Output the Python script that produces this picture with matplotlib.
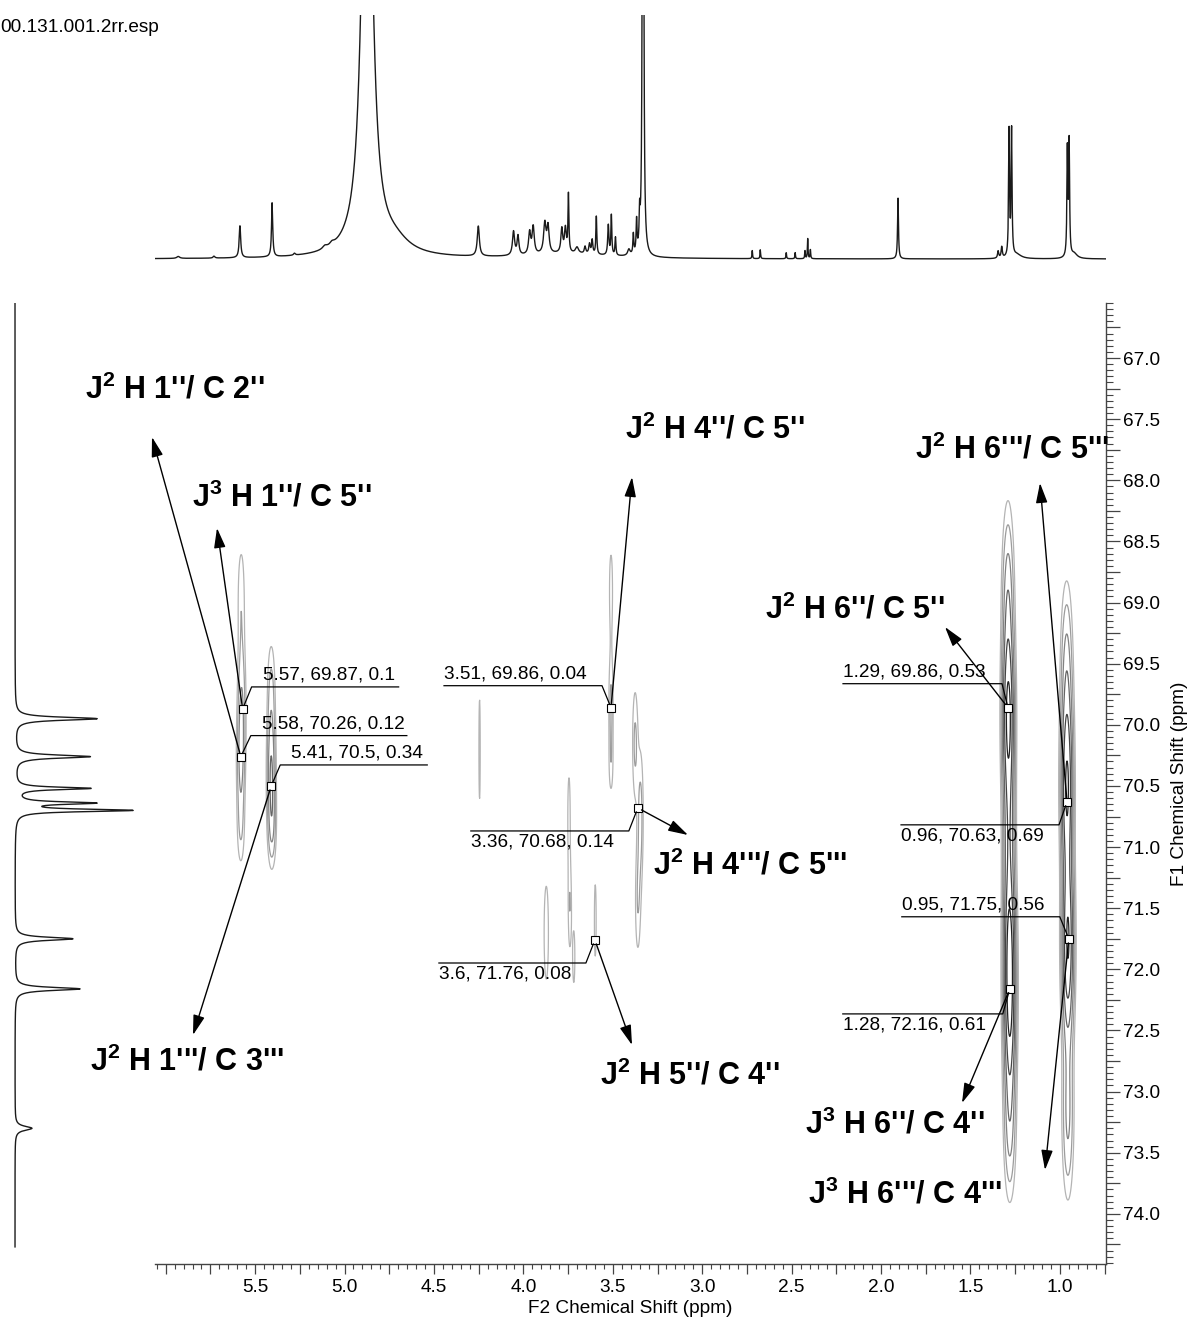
import numpy as np
import matplotlib
matplotlib.use("Agg")
import matplotlib.pyplot as plt
from matplotlib.ticker import MultipleLocator, FuncFormatter

plt.rcParams['font.family'] = ['Liberation Sans', 'DejaVu Sans']
plt.rcParams['mathtext.fontset'] = 'custom'
plt.rcParams['mathtext.rm'] = 'Liberation Sans:bold'
plt.rcParams['mathtext.bf'] = 'Liberation Sans:bold'
plt.rcParams['mathtext.it'] = 'Liberation Sans:bold'

W, H = 1195, 1321

# spectral window (ppm)
f2_window = (6.06, 0.742)      # 1H axis, left -> right
f1_window = (74.41, 66.55)     # 13C axis, bottom -> top

# 1H reference trace: peak list (shift, height in full-scale units, half width)
h1_shift = [5.93, 5.73, 5.585, 5.405, 5.28, 5.11, 5.07, 4.874, 4.72, 4.252,
            4.055, 4.030, 3.965, 3.945, 3.880, 3.862, 3.785, 3.765, 3.748, 3.70,
            3.655, 3.630, 3.615, 3.592, 3.525, 3.508, 3.485, 3.41, 3.385, 3.367,
            3.350, 3.331, 3.75, 2.72, 2.675, 2.53, 2.48, 2.425, 2.41, 2.395,
            1.905, 1.345, 1.325, 1.284, 1.270, 1.24, 0.958, 0.948, 0.92]
h1_height = [0.008, 0.008, 0.131, 0.221, 0.008, 0.012, 0.012, 2.34, 0.049, 0.123,
             0.098, 0.078, 0.090, 0.111, 0.123, 0.107, 0.098, 0.098, 0.238, 0.025,
             0.029, 0.041, 0.057, 0.156, 0.123, 0.164, 0.074, 0.025, 0.082, 0.131,
             0.131, 6.15, 0.020, 0.033, 0.037, 0.025, 0.025, 0.033, 0.082, 0.037,
             0.250, 0.029, 0.045, 0.516, 0.516, 0.016, 0.434, 0.463, 0.020]
h1_halfwidth = [0.01, 0.006, 0.005, 0.004, 0.006, 0.015, 0.015, 0.0314, 0.10, 0.007,
                0.007, 0.006, 0.007, 0.007, 0.008, 0.007, 0.006, 0.006, 0.003, 0.01,
                0.005, 0.005, 0.004, 0.003, 0.004, 0.003, 0.003, 0.008, 0.003, 0.003,
                0.003, 0.0025, 0.25, 0.002, 0.002, 0.002, 0.002, 0.002, 0.002, 0.002,
                0.003, 0.004, 0.004, 0.003, 0.003, 0.03, 0.003, 0.003, 0.02]

# 13C projection: peak list (shift, height, half width)
c13_shift = [69.95, 70.26, 70.52, 70.64, 70.70, 71.75, 72.16, 73.30]
c13_height = [0.82, 0.75, 0.75, 0.77, 1.15, 0.58, 0.65, 0.17]
c13_halfwidth = [0.015, 0.015, 0.012, 0.012, 0.012, 0.015, 0.015, 0.02]
c13_trace_end = 74.27

# HMBC cross peaks: centre (F2, F1), widths (F2, F1), amplitude
xp_f2 = [5.578, 5.575, 5.58, 5.58, 5.41, 5.41, 5.405, 4.245, 3.51, 3.51,
         3.51, 3.375, 3.345, 3.36, 3.745, 3.74, 3.718, 3.872, 3.598,
         1.29, 1.288, 1.285, 1.282, 1.28, 1.28, 0.962, 0.96, 0.955, 0.955]
xp_f1 = [68.95, 69.8, 70.3, 70.85, 69.7, 70.4, 70.85, 70.2, 68.9, 69.85,
         70.35, 70.15, 70.75, 71.45, 70.75, 71.5, 71.9, 71.7, 71.6,
         69.0, 69.95, 70.9, 71.7, 72.3, 73.3, 69.5, 70.5, 71.8, 73.2]
xp_w2 = [0.016, 0.016, 0.016, 0.016, 0.016, 0.016, 0.016, 0.004, 0.01, 0.01,
         0.01, 0.012, 0.012, 0.012, 0.007, 0.008, 0.007, 0.011, 0.005,
         0.022, 0.022, 0.022, 0.022, 0.022, 0.022, 0.022, 0.022, 0.022, 0.022]
xp_w1 = [0.35, 0.35, 0.3, 0.25, 0.3, 0.35, 0.22, 0.45, 0.35, 0.3,
         0.2, 0.35, 0.4, 0.35, 0.35, 0.3, 0.25, 0.35, 0.3,
         0.5, 0.45, 0.45, 0.4, 0.5, 0.4, 0.45, 0.5, 0.5, 0.45]
xp_amp = [1.6, 2.6, 2.8, 1.6, 1.8, 4.5, 2.0, 1.5, 1.4, 2.0,
          1.2, 2.0, 2.2, 1.7, 1.5, 1.7, 1.4, 1.8, 1.6,
          4.0, 9.0, 5.0, 5.0, 9.0, 3.0, 3.0, 9.0, 9.0, 3.2]

contour_levels = [1.0, 1.8, 3.0, 4.5, 6.5, 9.0]
contour_colors = ['#b4b4b4', '#9c9c9c', '#828282', '#646464', '#444444', '#222222']

# picked peaks (F2, F1, intensity)
pick_f2 = [5.57, 5.58, 5.41, 3.51, 3.36, 3.6, 1.29, 0.96, 0.95, 1.28]
pick_f1 = [69.87, 70.26, 70.5, 69.86, 70.68, 71.76, 69.86, 70.63, 71.75, 72.16]
pick_int = [0.1, 0.12, 0.34, 0.04, 0.14, 0.08, 0.53, 0.69, 0.56, 0.61]

# correlation assignments for each pick
j_order = [3, 2, 2, 2, 2, 2, 2, 2, 3, 3]
proton = ["1''", "1''", "1'''", "4''", "4'''", "5''", "6''", "6'''", "6'''", "6''"]
carbon = ["5''", "2''", "3'''", "5''", "5'''", "4''", "5''", "5'''", "4'''", "4''"]

file_name = "00.131.001.2rr.esp"

# ---------------- layout (pixels) ----------------
# leader: elbow offset from the pick (dx, dy), run direction, run length, text side
leader = [(9, -22, 1, 147, 'above'), (10, -21, 1, 156, 'above'), (9, -21, 1, 147, 'above'),
          (-9, -22, -1, 158, 'above'), (-9, 23, -1, 158, 'below'), (-9, 23, -1, 147, 'below'),
          (-6, -24, -1, 159, 'above'), (-8, 23, -1, 158, 'below'), (-9, -22, -1, 158, 'above'),
          (-7, 25, -1, 160, 'below')]
# assignment text (left x, centre y) and arrow tip
assign_text = [(192, 498), (85, 390), (90, 1062), (625, 430), (653, 866), (600, 1076),
               (765, 610), (915, 450), (808, 1195), (805, 1125)]
assign_tip = [(217, 528), (152, 437), (193, 1035), (632, 477), (688, 835), (632, 1045),
              (945, 627), (1040, 483), (1045, 1170), (962, 1103)]


def box(x0, y0, x1, y1):
    return [x0 / W, 1 - y1 / H, (x1 - x0) / W, (y1 - y0) / H]


def lorentz_sum(grid, centres, heights, widths):
    out = np.zeros_like(grid)
    for c, h, w in zip(centres, heights, widths):
        out += h / (1.0 + ((grid - c) / w) ** 2)
    return out


fig = plt.figure(figsize=(W / 100, H / 100), dpi=100)
fig.patch.set_facecolor('white')

TXT = 13.7
BOLD = 22
AX_COLOR = '#444444'

# ---- main 2D panel ----
ax = fig.add_axes(box(155, 303, 1106, 1264))
ax.set_xlim(*f2_window)
ax.set_ylim(*f1_window)

g2 = np.arange(f2_window[1], f2_window[0], 0.0015)
g1 = np.arange(f1_window[1], f1_window[0], 0.01)
Z = np.zeros((g1.size, g2.size))
for x0, y0, sx, sy, a in zip(xp_f2, xp_f1, xp_w2, xp_w1, xp_amp):
    gx = np.exp(-0.5 * ((g2 - x0) / sx) ** 2)
    gy = np.exp(-0.5 * ((g1 - y0) / sy) ** 2)
    Z += a * np.outer(gy, gx)
ax.contour(g2, g1, Z, levels=contour_levels, colors=contour_colors, linewidths=0.9)

for side in ('top', 'left'):
    ax.spines[side].set_visible(False)
for side in ('bottom', 'right'):
    ax.spines[side].set_color(AX_COLOR)
    ax.spines[side].set_linewidth(1.0)
ax.yaxis.tick_right()
ax.yaxis.set_label_position('right')


def half_fmt_x(v, p):
    if v > 5.9 or abs(v * 2 - round(v * 2)) > 1e-6:
        return ''
    return f'{v:.1f}'


def half_fmt_y(v, p):
    return f'{v:.1f}' if abs(v * 2 - round(v * 2)) < 1e-6 else ''


ax.xaxis.set_major_locator(MultipleLocator(0.25))
ax.xaxis.set_minor_locator(MultipleLocator(0.05))
ax.yaxis.set_major_locator(MultipleLocator(0.25))
ax.yaxis.set_minor_locator(MultipleLocator(0.05))
ax.xaxis.set_major_formatter(FuncFormatter(half_fmt_x))
ax.yaxis.set_major_formatter(FuncFormatter(half_fmt_y))
ax.tick_params(axis='x', which='major', direction='out', length=7.5, width=0.9,
               color=AX_COLOR, labelsize=TXT, pad=3)
ax.tick_params(axis='x', which='minor', direction='out', length=3.8, width=0.8, color=AX_COLOR)
ax.tick_params(axis='y', which='major', direction='out', length=10, width=0.9,
               color=AX_COLOR, labelsize=TXT, pad=2)
ax.tick_params(axis='y', which='minor', direction='out', length=5, width=0.8, color=AX_COLOR)
ax.set_xlabel('F2 Chemical Shift (ppm)', fontsize=TXT, labelpad=3)
ax.set_ylabel('F1 Chemical Shift (ppm)', fontsize=TXT, labelpad=8)

ax.plot(pick_f2, pick_f1, 's', ms=5.8, mfc='white', mec='black', mew=0.8, zorder=6)

# ---- 1H trace on top ----
ax_top = fig.add_axes(box(155, 15, 1106, 262))
grid_h = np.linspace(f2_window[1], f2_window[0], 8000)
ax_top.plot(grid_h, lorentz_sum(grid_h, h1_shift, h1_height, h1_halfwidth),
            color='#1a1a1a', lw=1.0)
ax_top.set_xlim(*f2_window)
ax_top.set_ylim(-0.012, 1.0)
ax_top.axis('off')

# ---- 13C projection on the left ----
ax_left = fig.add_axes(box(0, 303, 160, 1264))
grid_c = np.linspace(f1_window[1], c13_trace_end, 4000)
ax_left.plot(lorentz_sum(grid_c, c13_shift, c13_height, c13_halfwidth), grid_c,
             color='#1a1a1a', lw=1.0)
ax_left.set_ylim(*f1_window)
ax_left.set_xlim(-0.15, 1.45)
ax_left.axis('off')

# ---- annotation overlay in pixel units ----
ov = fig.add_axes([0, 0, 1, 1], zorder=10)
ov.set_xlim(0, W)
ov.set_ylim(H, 0)
ov.axis('off')
ov.patch.set_alpha(0)

ov.text(0, 27, file_name, fontsize=TXT, ha='left', va='center')

fig.canvas.draw()
for i in range(len(pick_f2)):
    dx, dy = ax.transData.transform((pick_f2[i], pick_f1[i]))
    px, py = dx, H - dy
    edx, edy, sgn, run, side = leader[i]
    ex, ey = px + edx, py + edy
    # diagonal stops at the square outline
    vx, vy = ex - px, ey - py
    s = 4.0 / max(abs(vx), abs(vy))
    ov.plot([px + vx * s, ex, ex + sgn * run], [py + vy * s, ey, ey],
            color='black', lw=0.9)
    label = f'{pick_f2[i]:g}, {pick_f1[i]:g}, {pick_int[i]:g}'
    tx = ex + 11 if sgn > 0 else ex - run
    if side == 'above':
        ov.text(tx, ey - 3, label, fontsize=TXT, ha='left', va='bottom')
    else:
        ov.text(tx, ey + 3, label, fontsize=TXT, ha='left', va='top')

    txt = f"J$^{{{j_order[i]}}}$ H {proton[i]}/ C {carbon[i]}"
    ov.text(assign_text[i][0], assign_text[i][1], txt, fontsize=BOLD, fontweight='bold',
            ha='left', va='center')
    ov.annotate('', xy=assign_tip[i], xycoords=ov.transData,
                xytext=(pick_f2[i], pick_f1[i]), textcoords=ax.transData,
                arrowprops=dict(arrowstyle='-|>,head_length=1.1,head_width=0.32',
                                mutation_scale=11, color='black', lw=1.0,
                                shrinkA=3, shrinkB=0))

fig.savefig('out.png', dpi=100)
